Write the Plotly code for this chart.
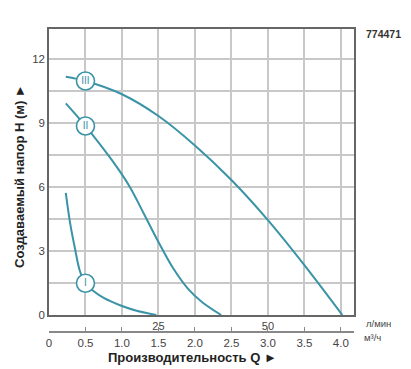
import plotly.graph_objects as go

# Data (Q in m3/h, H in m)
q_I = [0.23, 0.29, 0.36, 0.42, 0.5, 0.6, 0.75, 1.0, 1.2, 1.47]
h_I = [5.73, 4.3, 3.05, 2.1, 1.45, 1.15, 0.8, 0.42, 0.2, 0.0]

q_II = [0.23, 0.5, 0.86, 1.1, 1.3, 1.5, 1.7, 1.9, 2.1, 2.36]
h_II = [9.92, 8.86, 7.27, 6.05, 4.75, 3.42, 2.2, 1.25, 0.6, 0.0]

q_III = [0.23, 0.5, 1.0, 1.5, 2.0, 2.5, 3.0, 3.5, 4.02]
h_III = [11.17, 10.97, 10.35, 9.33, 7.95, 6.33, 4.45, 2.34, 0.0]

speed_labels = ["I", "II", "III"]
marker_q = [0.5, 0.5, 0.5]
marker_h = [1.49, 8.86, 10.97]

x_ticks = [0, 0.5, 1.0, 1.5, 2.0, 2.5, 3.0, 3.5, 4.0]
x_ticktext = ["0", "0.5", "1.0", "1.5", "2.0", "2.5", "3.0", "3.5", "4.0"]
lmin_ticktext = ["", "", "", "25", "", "", "50", "", ""]
y_ticks = [0, 1.5, 3, 4.5, 6, 7.5, 9, 10.5, 12]
y_ticktext = ["0", "", "3", "", "6", "", "9", "", "12"]

TEAL = "#3a93a6"
FONT = "Liberation Sans, Arial, sans-serif"

fig = go.Figure()
for q, h in [(q_I, h_I), (q_II, h_II), (q_III, h_III)]:
    fig.add_trace(go.Scatter(x=q, y=h, mode="lines",
                             line=dict(color=TEAL, width=2, shape="spline", smoothing=1.0),
                             hoverinfo="skip", showlegend=False))

fig.add_trace(go.Scatter(x=marker_q, y=marker_h, mode="markers+text",
                         text=speed_labels, textposition="middle center",
                         textfont=dict(family=FONT, size=10, color=TEAL),
                         marker=dict(symbol="circle", size=18, color="white",
                                     line=dict(color=TEAL, width=1.6)),
                         showlegend=False, hoverinfo="skip"))

# invisible trace for the secondary (m3/h) axis
fig.add_trace(go.Scatter(x=[0, 4], y=[0, 0], xaxis="x2", yaxis="y", mode="lines",
                         line=dict(color="rgba(0,0,0,0)"), showlegend=False, hoverinfo="skip"))

# page is offset by the 8px body margin, so work in page pixels and subtract it
OFF = 8
W, H = 411 - OFF, 369 - OFF
ml, mt = 49 - OFF, 29 - OFF
mr = W - (354 - OFF)
mb = H - (332 - OFF)
pw = W - ml - mr
ph = H - mt - mb


def px_x(x):
    return (x - OFF - ml) / pw


def px_y(y):
    return (H - mb - (y - OFF)) / ph


ydom0 = px_y(315)
xr = [0, 4.18]
fig.update_layout(
    width=W, height=H,
    margin=dict(l=ml, r=mr, t=mt, b=mb, autoexpand=False),
    paper_bgcolor="white", plot_bgcolor="white",
    font=dict(family=FONT, size=11, color="#444"),
    xaxis=dict(range=xr, tickvals=x_ticks, ticktext=lmin_ticktext, ticks="",
               showgrid=True, gridcolor="#c8c8c8", gridwidth=1.5,
               showline=True, mirror=True, linecolor="#666", linewidth=1.5,
               zeroline=False, tickfont=dict(size=11, color="#444"), anchor="y"),
    xaxis2=dict(range=xr, overlaying="x", anchor="free", position=0,
                tickvals=x_ticks, ticktext=x_ticktext, ticks="inside", ticklen=4,
                tickcolor="#888", showgrid=False, showline=True, linecolor="#888",
                linewidth=1.5, zeroline=False, tickfont=dict(size=11.5, color="#444")),
    yaxis=dict(range=[0, 13.41], domain=[ydom0, 1], tickvals=y_ticks, ticktext=y_ticktext,
               ticks="", showgrid=True, gridcolor="#c8c8c8", gridwidth=1.5,
               showline=True, mirror=True, linecolor="#666", linewidth=1.5,
               zeroline=False, tickfont=dict(size=11.5, color="#444")),
)

fig.add_shape(type="rect", xref="paper", yref="paper",
              x0=px_x(404), x1=px_x(411), y0=px_y(343), y1=px_y(8),
              fillcolor="#f2f2f2", line=dict(width=0), layer="below")

ann = [
    dict(text="<b>Создаваемый напор H (м) ►</b>", x=px_x(19), y=px_y(176), textangle=-90,
         font=dict(size=13, color="#222")),
    dict(text="<b>Производительность Q ►</b>", x=px_x(192), y=px_y(357),
         font=dict(size=13, color="#222")),
    dict(text="<b>774471</b>", x=px_x(383), y=px_y(34), font=dict(size=10.5, color="#333")),
    dict(text="л/мин", x=px_x(378), y=px_y(323), font=dict(size=9.5, color="#444")),
    dict(text="м³/ч", x=px_x(373), y=px_y(337), font=dict(size=9.5, color="#444")),
]
for a in ann:
    fig.add_annotation(xref="paper", yref="paper", showarrow=False,
                       xanchor="center", yanchor="middle", **a)

fig.write_html("out.html")
